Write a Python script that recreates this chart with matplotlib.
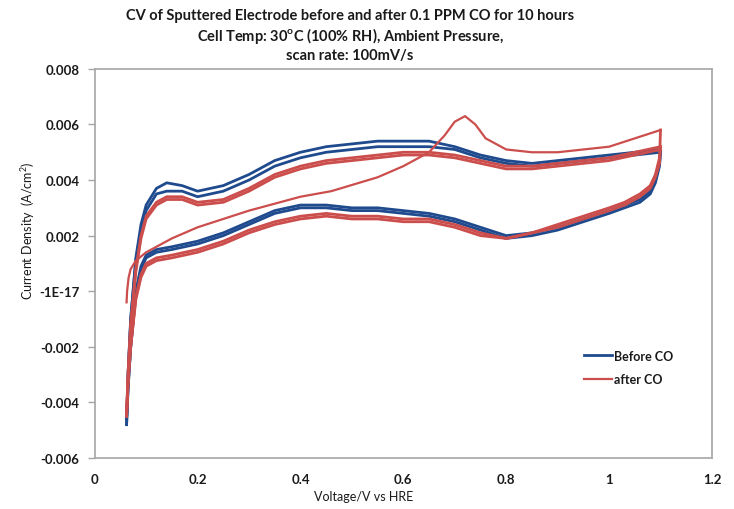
import matplotlib
matplotlib.use("Agg")
import matplotlib.pyplot as plt

plt.rcParams["font.family"] = ["Lato", "DejaVu Sans"]

# anodic (forward) sweep potentials
v_up = [0.062, 0.065, 0.07, 0.08, 0.09, 0.10, 0.12, 0.14, 0.17, 0.20, 0.25, 0.30,
        0.35, 0.40, 0.45, 0.50, 0.55, 0.60, 0.65, 0.70, 0.75, 0.80, 0.85, 0.90,
        0.95, 1.00, 1.05, 1.10]
# cathodic (reverse) sweep potentials
v_down = [1.10, 1.098, 1.09, 1.08, 1.06, 1.03, 1.00, 0.95, 0.90, 0.85, 0.80, 0.75,
          0.70, 0.65, 0.60, 0.55, 0.50, 0.45, 0.40, 0.35, 0.30, 0.25, 0.20, 0.15,
          0.12, 0.10, 0.09, 0.08, 0.07, 0.065, 0.062]

# Before CO, two cycles
before_up_1 = [-0.0048, -0.0030, -0.0010, 0.0012, 0.0024, 0.0031, 0.0037, 0.0039, 0.0038,
               0.0036, 0.0038, 0.0042, 0.0047, 0.0050, 0.0052, 0.0053, 0.0054, 0.0054,
               0.0054, 0.0052, 0.0049, 0.0047, 0.0046, 0.0047, 0.0048, 0.0049, 0.0050, 0.0051]
before_up_2 = [-0.0046, -0.0029, -0.0010, 0.0011, 0.0022, 0.0029, 0.0035, 0.0036, 0.0036,
               0.0034, 0.0036, 0.0040, 0.0045, 0.0048, 0.0050, 0.0051, 0.0052, 0.0052,
               0.0052, 0.0051, 0.0048, 0.0046, 0.0045, 0.0046, 0.0047, 0.0048, 0.0049, 0.0050]
before_down_1 = [0.0051, 0.0046, 0.0040, 0.0036, 0.0033, 0.0031, 0.0029, 0.0026, 0.0023,
                 0.0021, 0.0020, 0.0023, 0.0026, 0.0028, 0.0029, 0.0030, 0.0030, 0.0031,
                 0.0031, 0.0029, 0.0025, 0.0021, 0.0018, 0.0016, 0.0015, 0.0013, 0.0009,
                 0.0000, -0.0020, -0.0035, -0.0048]
before_down_2 = [0.0050, 0.0045, 0.0039, 0.0035, 0.0032, 0.0030, 0.0028, 0.0025, 0.0022,
                 0.0020, 0.0019, 0.0022, 0.0025, 0.0027, 0.0028, 0.0029, 0.0029, 0.0030,
                 0.0030, 0.0028, 0.0024, 0.0020, 0.0017, 0.0015, 0.0014, 0.0012, 0.0008,
                 -0.0001, -0.0020, -0.0034, -0.0046]

# After CO: first sweep with CO stripping peak
strip_v = [0.062, 0.063, 0.066, 0.07, 0.08, 0.10, 0.15, 0.20, 0.30, 0.40, 0.46, 0.55,
           0.60, 0.65, 0.68, 0.70, 0.72, 0.74, 0.76, 0.80, 0.85, 0.90, 0.95, 1.00,
           1.05, 1.10]
strip_j = [-0.0004, 0.0000, 0.0005, 0.0008, 0.0011, 0.0014, 0.0019, 0.0023, 0.0029,
           0.0034, 0.0036, 0.0041, 0.0045, 0.0050, 0.0056, 0.0061, 0.0063, 0.0060,
           0.0055, 0.0051, 0.0050, 0.0050, 0.0051, 0.0052, 0.0055, 0.0058]

after_up_1 = [-0.0045, -0.0030, -0.0012, 0.0008, 0.0020, 0.0027, 0.0032, 0.0034, 0.0034,
              0.0032, 0.0033, 0.0037, 0.0042, 0.0045, 0.0047, 0.0048, 0.0049, 0.0050,
              0.0050, 0.0049, 0.0047, 0.0045, 0.0045, 0.0046, 0.0047, 0.0048, 0.0050, 0.0052]
after_up_2 = [-0.0044, -0.0029, -0.0012, 0.0007, 0.0019, 0.0026, 0.0031, 0.0033, 0.0033,
              0.0031, 0.0032, 0.0036, 0.0041, 0.0044, 0.0046, 0.0047, 0.0048, 0.0049,
              0.0049, 0.0048, 0.0046, 0.0044, 0.0044, 0.0045, 0.0046, 0.0047, 0.0049, 0.0051]
after_down_1 = [0.0058, 0.0048, 0.0042, 0.0038, 0.0035, 0.0032, 0.0030, 0.0027, 0.0024,
                0.0021, 0.0019, 0.0021, 0.0024, 0.0026, 0.0026, 0.0027, 0.0027, 0.0028,
                0.0027, 0.0025, 0.0022, 0.0018, 0.0015, 0.0013, 0.0012, 0.0010, 0.0006,
                -0.0002, -0.0020, -0.0033, -0.0045]
after_down_2 = [0.0052, 0.0046, 0.0041, 0.0037, 0.0034, 0.0031, 0.0029, 0.0026, 0.0023,
                0.0021, 0.0019, 0.0020, 0.0023, 0.0025, 0.0025, 0.0026, 0.0026, 0.0027,
                0.0026, 0.0024, 0.0021, 0.0017, 0.0014, 0.0012, 0.0011, 0.0009, 0.0005,
                -0.0003, -0.0020, -0.0032, -0.0044]

y_ticks = [-0.006, -0.004, -0.002, 0.0, 0.002, 0.004, 0.006, 0.008]
y_tick_labels = ["-0.006", "-0.004", "-0.002", "-1E-17", "0.002", "0.004", "0.006", "0.008"]
x_ticks = [0, 0.2, 0.4, 0.6, 0.8, 1.0, 1.2]
x_tick_labels = ["0", "0.2", "0.4", "0.6", "0.8", "1", "1.2"]

blue = "#1F4B8E"
red = "#CC4E4C"
txt = "#1A1A1A"

fig = plt.figure(figsize=(7.34, 5.10), dpi=100)
ax = fig.add_axes([0.129, 0.100, 0.841, 0.763])

lw = 2.0
# before CO cycles
ax.plot(v_up, before_up_1, color=blue, lw=lw, label="Before CO")
ax.plot(v_down, before_down_1, color=blue, lw=lw)
ax.plot(v_up, before_up_2, color=blue, lw=lw)
ax.plot(v_down, before_down_2, color=blue, lw=lw)
# after CO cycles
ax.plot(strip_v, strip_j, color=red, lw=1.6, label="after CO")
ax.plot(v_down, after_down_1, color=red, lw=lw)
ax.plot(v_up, after_up_1, color=red, lw=lw)
ax.plot(v_down, after_down_2, color=red, lw=lw)
ax.plot(v_up, after_up_2, color=red, lw=lw)

ax.set_xlim(0, 1.2)
ax.set_ylim(-0.006, 0.008)
ax.set_xticks(x_ticks)
ax.set_xticklabels(x_tick_labels)
ax.set_yticks(y_ticks)
ax.set_yticklabels(y_tick_labels)
for s in ax.spines.values():
    s.set_color("#A6A6A6")
    s.set_linewidth(1.2)
ax.tick_params(axis="y", direction="out", length=5, color="#A6A6A6", width=1,
               labelsize=9.5, labelcolor=txt, pad=6)
ax.tick_params(axis="x", length=0, labelsize=9.5, labelcolor=txt, pad=11)
for lab in ax.get_xticklabels() + ax.get_yticklabels():
    lab.set_fontweight("bold")

fig.text(0.477, 0.968, "CV of Sputtered Electrode before and after 0.1 PPM CO for 10 hours",
         ha="center", va="center", fontsize=10.5, fontweight="bold", color=txt)
fig.text(0.477, 0.929, "Cell Temp: 30$^{\\mathregular{o}}$C (100% RH), Ambient Pressure,",
         ha="center", va="center", fontsize=10.5, fontweight="bold", color=txt)
fig.text(0.477, 0.890, "scan rate: 100mV/s",
         ha="center", va="center", fontsize=10.5, fontweight="bold", color=txt)

fig.text(0.496, 0.026, "Voltage/V vs HRE", ha="center", va="center",
         fontsize=9, color=txt)
fig.text(0.038, 0.548, "Current Density  (A/cm$^{\\mathregular{2}}$)", ha="center",
         va="center", rotation=90, fontsize=9, color=txt)

leg = ax.legend(loc="upper left", bbox_to_anchor=(0.775, 0.307), frameon=False,
                fontsize=9, handlelength=2.2, handletextpad=0.2, labelspacing=0.9)
for t in leg.get_texts():
    t.set_fontweight("bold")
    t.set_color(txt)

fig.savefig("out.png", dpi=100)
